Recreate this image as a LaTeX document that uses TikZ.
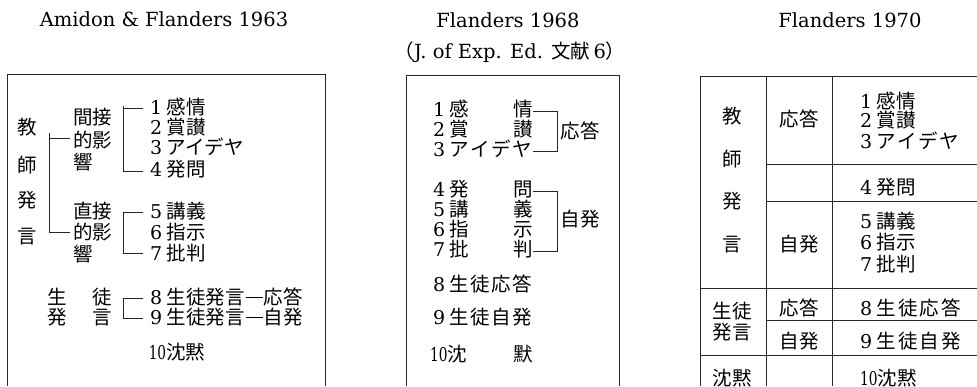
\documentclass[tikz,border=0pt]{standalone}
\usepackage{graphicx}
\usepackage{fontspec}
\newfontfamily\jp{Noto Sans CJK JP}
\newfontfamily\dv{DejaVu Serif}
\newcommand\dg[1]{{\dv\fontsize{19}{19}\selectfont #1}}
\newcommand\dgt[1]{{\dv\fontsize{19}{19}\selectfont\scalebox{0.72}[1]{#1}}}
\newcommand\mydash{\hspace{1pt}\rule[6.5pt]{17pt}{0.8pt}\hspace{1pt}}
\tikzset{
  ln/.style={line width=0.8pt, draw=black!85},
  tx/.style={inner sep=0pt, font=\jp\fontsize{19.5}{19.5}\selectfont, text height=15.5pt, text depth=2pt},
  txw/.style={tx, anchor=west},
  ttl/.style={inner sep=0pt, font=\dv\fontsize{19.5}{19.5}\selectfont, text height=15pt, text depth=4pt},
}
\begin{document}
\begin{tikzpicture}[x=1pt,y=-1pt]
\useasboundingbox (0,0) rectangle (977,386);

% ---------- titles ----------
\node[ttl] (t1) at (164,21) {Amidon \& Flanders 1963};
\node[ttl] (t2) at (508,22) {Flanders 1968};
\node[ttl] (t3) at (510,53) {{\jp\fontsize{19.5}{19.5}\selectfont （}J. of Exp. Ed. {\jp\fontsize{19.5}{19.5}\selectfont 文献}\,6{\jp\fontsize{19.5}{19.5}\selectfont ）}};
\node[ttl] (t4) at (850,22) {Flanders 1970};

% ---------- box 1 : Amidon & Flanders 1963 ----------
\draw[ln] (7,386) -- (7,74) -- (325,74) -- (325,386);
\node[tx] (a1) at (27,128) {教};
\node[tx] (a2) at (27,166) {師};
\node[tx] (a3) at (27,201) {発};
\node[tx] (a4) at (27,237) {言};
\coordinate (aT) at (49,133);
\coordinate (aB) at (49,233);
\draw[ln] (aT) -- (aB) (49,138) -- (70,138) (49,232) -- (70,232);

\node[txw] (g1a) at (73,118) {間接};
\node[txw] (g1b) at (73,141) {的影};
\node[txw] (g1c) at (73,163) {響};
\draw[ln] (143,108) -- (123,108) -- (123,171) -- (143,171);
\draw[ln] (123,106) -- (123,108);
\node[txw] (i1) at (150,108) {\dg{1} 感情};
\node[txw] (i2) at (150,128) {\dg{2} 賞讃};
\node[txw] (i3) at (150,148) {\dg{3} アイデヤ};
\node[txw] (i4) at (150,170) {\dg{4} 発問};

\node[txw] (g2a) at (73,212) {直接};
\node[txw] (g2b) at (73,233) {的影};
\node[txw] (g2c) at (73,255) {響};
\draw[ln] (143,212) -- (123,212) -- (123,253) -- (143,253);
\node[txw] (i5) at (150,212) {\dg{5} 講義};
\node[txw] (i6) at (150,233) {\dg{6} 指示};
\node[txw] (i7) at (150,254) {\dg{7} 批判};

\node[tx] (s1) at (57,298) {生};
\node[tx] (s2) at (102,298) {徒};
\node[tx] (s3) at (57,318) {発};
\node[tx] (s4) at (102,318) {言};
\draw[ln] (143,298) -- (123,298) -- (123,318) -- (143,318);
\node[txw] (i8) at (150,298) {\dg{8} 生徒発言\mydash 応答};
\node[txw] (i9) at (150,318) {\dg{9} 生徒発言\mydash 自発};
\node[tx] (i10) at (177,353) {\dgt{10}沈黙};

% ---------- box 2 : Flanders 1968 ----------
\draw[ln] (406,386) -- (406,75) -- (619,75) -- (619,386);
\node[txw] (r1a) at (433,110) {\dg{1} 感};
\node[tx]  (r1b) at (523,110) {情};
\node[txw] (r2a) at (433,130) {\dg{2} 賞};
\node[tx]  (r2b) at (523,130) {讃};
\node[txw] (r3)  at (433,150) {\dg{3} ア\kern1.5ptイ\kern1.5ptデ\kern1.5ptヤ};
\draw[ln] (r1b.east |- 0,111) -- (557,111) -- (557,151) -- (r1b.east |- 0,151);
\node[tx] (o1) at (580,132) {応答};

\node[txw] (r4a) at (433,190) {\dg{4} 発};
\node[tx]  (r4b) at (523,190) {問};
\node[txw] (r5a) at (433,210) {\dg{5} 講};
\node[tx]  (r5b) at (523,210) {義};
\node[txw] (r6a) at (433,230) {\dg{6} 指};
\node[tx]  (r6b) at (523,230) {示};
\node[txw] (r7a) at (433,250) {\dg{7} 批};
\node[tx]  (r7b) at (523,250) {判};
\draw[ln] (r4b.east |- 0,191) -- (557,191) -- (557,251) -- (r7b.east |- 0,251);
\node[tx] (o2) at (580,220) {自発};

\node[txw] (r8) at (433,285) {\dg{8} 生\kern1.5pt 徒\kern1.5pt 応\kern1.5pt 答};
\node[txw] (r9) at (433,318) {\dg{9} 生\kern1.5pt 徒\kern1.5pt 自\kern1.5pt 発};
\node[txw] (r10a) at (430,355) {\dgt{10}沈};
\node[tx]  (r10b) at (523,355) {默};

% ---------- box 3 : Flanders 1970 ----------
\draw[ln] (700,386) -- (700,76) -- (977,76);
\draw[ln] (766,76) -- (766,386);
\draw[ln] (832,76) -- (832,386);
\draw[ln] (766,164) -- (977,164);
\draw[ln] (766,201) -- (977,201);
\draw[ln] (700,288) -- (977,288);
\draw[ln] (766,320) -- (977,320);
\draw[ln] (700,355) -- (977,355);

\node[tx] (c1) at (732,117) {教};
\node[tx] (c2) at (732,160) {師};
\node[tx] (c3) at (732,202) {発};
\node[tx] (c4) at (732,245) {言};
\node[tx] (c5) at (799,120) {応答};
\node[tx] (c6) at (799,245) {自発};
\node[txw] (q1) at (860,102) {\dg{1} 感情};
\node[txw] (q2) at (860,121) {\dg{2} 賞讃};
\node[txw] (q3) at (860,142) {\dg{3} ア\kern1.5ptイ\kern1.5ptデ\kern1.5ptヤ};
\node[txw] (q4) at (860,188) {\dg{4} 発問};
\node[txw] (q5) at (860,222) {\dg{5} 講義};
\node[txw] (q6) at (860,243) {\dg{6} 指示};
\node[txw] (q7) at (860,265) {\dg{7} 批判};
\node[tx] (c7) at (732,312) {生徒};
\node[tx] (c8) at (732,333) {発言};
\node[tx] (c9) at (799,309) {応答};
\node[tx] (c10) at (799,342) {自発};
\node[txw] (q8) at (860,309) {\dg{8} 生\kern2pt 徒\kern2pt 応\kern2pt 答};
\node[txw] (q9) at (860,342) {\dg{9} 生\kern2pt 徒\kern2pt 自\kern2pt 発};
\node[tx] (c11) at (732,379) {沈黙};
\node[txw] (q10) at (860,379) {\dgt{10}沈黙};
\end{tikzpicture}
\end{document}
